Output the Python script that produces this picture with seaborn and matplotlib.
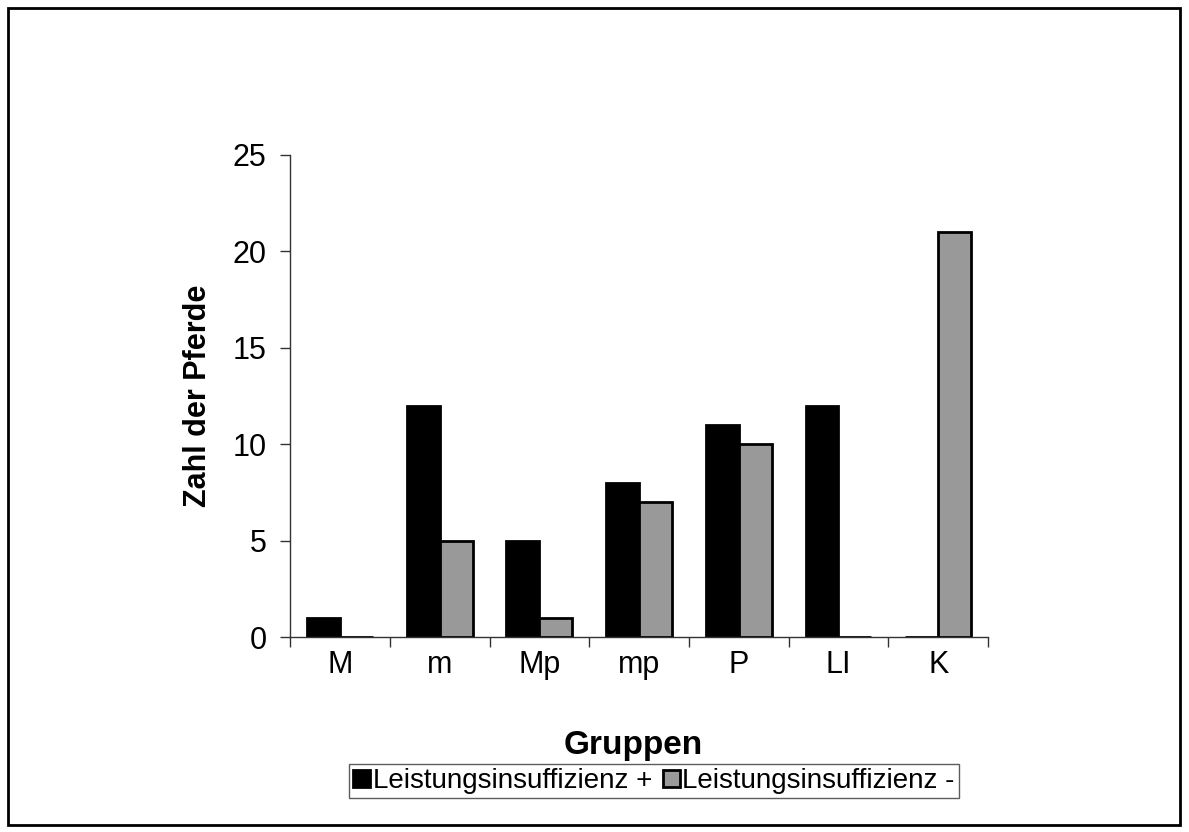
import matplotlib
matplotlib.use("Agg")
import matplotlib.pyplot as plt
from matplotlib.patches import Rectangle
import seaborn as sns
import pandas as pd

groups = ["M", "m", "Mp", "mp", "P", "LI", "K"]
li_plus = [1, 12, 5, 8, 11, 12, 0]
li_minus = [0, 5, 1, 7, 10, 0, 21]
series = ["Leistungsinsuffizienz +", "Leistungsinsuffizienz -"]
yticks = [0, 5, 10, 15, 20, 25]

df = pd.DataFrame({
    "Gruppen": groups * 2,
    "Zahl": li_plus + li_minus,
    "Serie": [series[0]] * len(groups) + [series[1]] * len(groups),
})

sns.set_theme(style="white")
plt.rcParams["font.family"] = ["Liberation Sans", "DejaVu Sans"]
plt.rcParams["text.color"] = "black"
plt.rcParams["axes.labelcolor"] = "black"
plt.rcParams["xtick.color"] = "black"
plt.rcParams["ytick.color"] = "black"

fig = plt.figure(figsize=(11.89, 8.32), dpi=100)
ax = fig.add_axes([0.244, 0.234, 0.587, 0.580])

sns.barplot(data=df, x="Gruppen", y="Zahl", hue="Serie", order=groups,
            hue_order=series, palette=["#000000", "#999999"], width=0.66,
            edgecolor="black", linewidth=2, ax=ax, legend=True)

ax.set_ylim(0, 25)
ax.set_xlim(-0.5, len(groups) - 0.5)
ax.set_yticks(yticks)
ax.set_yticklabels([str(v) for v in yticks], fontsize=22)
ax.set_xticks(range(len(groups)))
ax.set_xticklabels(groups, fontsize=22)
ax.set_xticks([i - 0.5 for i in range(len(groups) + 1)], minor=True)
ax.tick_params(axis="x", which="major", length=0, pad=9)
ax.tick_params(axis="x", which="minor", length=7, width=1, color="#333333", direction="out", bottom=True)
ax.tick_params(axis="y", which="major", length=7, width=1, color="#333333", direction="out", left=True, pad=10)

for s in ["top", "right"]:
    ax.spines[s].set_visible(False)
for s in ["left", "bottom"]:
    ax.spines[s].set_color("#333333")
    ax.spines[s].set_linewidth(1)

ax.set_xlabel("Gruppen", fontsize=24, fontweight="bold")
ax.set_ylabel("Zahl der Pferde", fontsize=22, fontweight="bold", labelpad=14)
ax.xaxis.set_label_coords(0.491, -0.192)

handles, labels = ax.get_legend_handles_labels()
ax.get_legend().remove()
leg = fig.legend(handles, labels, loc="center", bbox_to_anchor=(0.55, 0.061), ncol=2,
                 frameon=True, fancybox=False, handlelength=0.6,
                 handleheight=0.6, handletextpad=0.1, columnspacing=0.4,
                 borderpad=0.15, borderaxespad=0, fontsize=20)
leg.get_frame().set_edgecolor("#333333")
leg.get_frame().set_linewidth(1)

fig.patches.append(Rectangle((8 / 1189, 7 / 832), 1172 / 1189, 817 / 832,
                             transform=fig.transFigure, fill=False,
                             edgecolor="black", linewidth=2, figure=fig))

fig.savefig("out.png", dpi=100)
